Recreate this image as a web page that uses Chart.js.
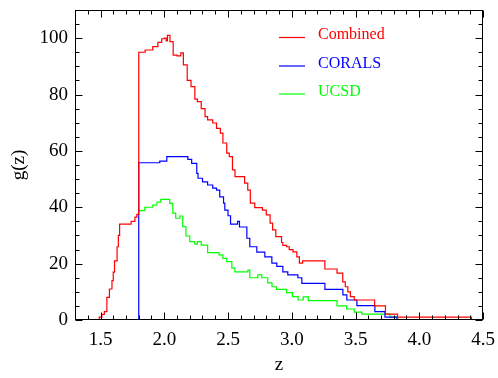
<!DOCTYPE html>
<html>
<head>
<meta charset="utf-8">
<script src="https://cdn.jsdelivr.net/npm/chart.js@4"></script>
<style>
  html, body { margin: 0; padding: 0; background: #fff; }
  #wrap { width: 498px; height: 378px; }
</style>
</head>
<body>
<div id="wrap"><canvas id="gzChart"></canvas></div>
<script>
// step edges (z) and heights g(z)
const redZ = [1.30,1.49,1.51,1.53,1.55,1.57,1.59,1.60,1.61,1.63,1.64,1.65,1.74,1.77,1.785,1.80,1.85,1.91,1.95,1.98,2.00,2.015,2.025,2.045,2.07,2.10,2.13,2.15,2.18,2.21,2.24,2.26,2.29,2.32,2.34,2.38,2.41,2.44,2.46,2.49,2.51,2.535,2.555,2.63,2.655,2.675,2.71,2.77,2.80,2.83,2.85,2.875,2.92,2.93,2.96,2.98,3.01,3.04,3.06,3.085,3.26,3.355,3.40,3.42,3.44,3.46,3.49,3.65,3.735,3.83,4.41,4.50];
const redG = [0,1,2,3,8,11,14,17,21,26,30,34,35,36.5,37.5,95,95.8,97,98.5,99.8,100,99,101,98.8,94,93.7,94.8,90.5,85,82.8,78.4,77.5,75,72.2,71,69.9,68,66.3,62.8,59.2,58,53.3,50.9,48.6,46.1,41.5,39.9,39,37.3,34.4,32,29.6,27.5,26.5,26,25,24.2,22.4,20.2,21,18.1,16.6,13.5,11.8,10,8.3,7.1,5,2.1,1,0,0];

const blueZ = [1.30,1.80,1.965,2.02,2.185,2.215,2.255,2.265,2.30,2.34,2.38,2.41,2.435,2.465,2.475,2.50,2.52,2.575,2.59,2.648,2.671,2.726,2.789,2.844,2.883,2.93,2.969,3.048,3.079,3.26,3.401,3.432,3.511,3.652,3.731,3.825];
const blueG = [0,55.8,56.4,58,57,55.6,52,50.3,49,47.9,46.8,46.1,43.7,41.5,39,37,34,35,33,29,26,24.1,22.4,20.2,19,17.1,16,15,13,10.9,8.9,7.1,5.1,3,1,0];

const greenZ = [1.80,1.847,1.91,1.943,1.973,2.043,2.067,2.09,2.122,2.145,2.17,2.20,2.24,2.26,2.29,2.34,2.43,2.46,2.49,2.53,2.554,2.656,2.671,2.734,2.765,2.812,2.845,2.88,2.96,3.005,3.05,3.09,3.13,3.355,3.43,3.49,3.55,3.77,3.83,4.41];
const greenG = [38.8,40,40.8,41.8,42.8,41.4,37.9,36.1,36.9,33.1,29.8,27.8,26.9,27.8,26.6,23.9,23.1,21.9,20.7,18.4,17.1,17.7,15,16,15,13.2,11.8,10.9,9.7,8.3,7.1,8.2,6.9,5,3.9,2.8,2.1,1,0,0];

const seriesNames = ['Combined', 'CORALS', 'UCSD'];
const seriesColors = ['#ff0000', '#0000ff', '#00ff00'];

const xTicks = [1.5, 2.0, 2.5, 3.0, 3.5, 4.0, 4.5];
const yTicks = [0, 20, 40, 60, 80, 100];

const pts = (zs, gs) => zs.map((z, i) => ({ x: z, y: gs[i] }));

const FONT = '"Liberation Serif", "DejaVu Serif", serif';

// IDL-style frame: inward ticks on all four sides + legend in the corner
const framePlugin = {
  id: 'frame',
  afterDraw(chart) {
    const { ctx, chartArea: a, scales: { x, y } } = chart;
    const L = Math.round(a.left) + 0.5, R = Math.round(a.right) - 0.5;
    const T = Math.round(a.top) + 0.5, B = Math.round(a.bottom) - 0.5;
    ctx.save();
    ctx.strokeStyle = '#000';
    ctx.lineWidth = 1;
    ctx.strokeRect(L, T, R - L, B - T);
    ctx.beginPath();
    for (let i = 13; i <= 45; i++) {
      const v = i / 10;
      const px = Math.round(x.getPixelForValue(v)) + 0.5;
      const len = (i % 5 === 0) ? 7 : 4;
      ctx.moveTo(px, B); ctx.lineTo(px, B - len);
      ctx.moveTo(px, T); ctx.lineTo(px, T + len);
    }
    for (let v = 0; v <= 110; v += 5) {
      const py = Math.round(y.getPixelForValue(v)) + 0.5;
      const len = (v % 20 === 0) ? 7 : 4;
      ctx.moveTo(L, py); ctx.lineTo(L + len, py);
      ctx.moveTo(R, py); ctx.lineTo(R - len, py);
    }
    ctx.stroke();

    // legend
    ctx.font = '16px ' + FONT;
    ctx.textBaseline = 'alphabetic';
    ctx.textAlign = 'left';
    const base = [39, 67.5, 95.5];
    seriesNames.forEach((name, i) => {
      ctx.strokeStyle = seriesColors[i];
      ctx.lineWidth = 1.2;
      ctx.beginPath();
      ctx.moveTo(279, base[i] - 1.5);
      ctx.lineTo(305, base[i] - 1.5);
      ctx.stroke();
      ctx.fillStyle = seriesColors[i];
      ctx.fillText(name, 318, base[i]);
    });
    ctx.restore();
  }
};

const ctx = document.getElementById('gzChart').getContext('2d');
new Chart(ctx, {
  type: 'line',
  data: {
    datasets: [
      { label: seriesNames[0], data: pts(redZ, redG), borderColor: seriesColors[0] },
      { label: seriesNames[1], data: pts(blueZ, blueG), borderColor: seriesColors[1] },
      { label: seriesNames[2], data: pts(greenZ, greenG), borderColor: seriesColors[2] },
    ],
  },
  options: {
    responsive: true,
    maintainAspectRatio: false,
    animation: false,
    devicePixelRatio: 1,
    layout: { padding: { left: 0, right: 15, top: 10, bottom: 0 } },
    elements: {
      line: { borderWidth: 1.2, stepped: true, tension: 0, fill: false },
      point: { radius: 0, hoverRadius: 0 },
    },
    plugins: {
      legend: { display: false },
      tooltip: { enabled: false },
    },
    scales: {
      x: {
        type: 'linear',
        min: 1.3,
        max: 4.5,
        grid: { display: false, drawTicks: false },
        border: { display: false },
        afterBuildTicks: (s) => { s.ticks = xTicks.map(v => ({ value: v })); },
        afterFit: (s) => { s.height = 58; s.paddingLeft = 0; s.paddingRight = 0; },
        ticks: {
          color: '#000',
          padding: 9,
          maxRotation: 0,
          font: { family: FONT, size: 19 },
          callback: (v) => Number(v).toFixed(1),
        },
        title: {
          display: true,
          text: 'z',
          color: '#000',
          font: { family: FONT, size: 19 },
          padding: { top: 0, bottom: 2 },
        },
      },
      y: {
        min: 0,
        max: 110,
        grid: { display: false, drawTicks: false },
        border: { display: false },
        afterBuildTicks: (s) => { s.ticks = yTicks.map(v => ({ value: v })); },
        afterFit: (s) => { s.width = 75; s.paddingTop = 0; s.paddingBottom = 0; },
        ticks: {
          color: '#000',
          padding: 7,
          font: { family: FONT, size: 19 },
        },
        title: {
          display: true,
          text: 'g(z)',
          color: '#000',
          font: { family: FONT, size: 19 },
          padding: { top: 8, bottom: 0 },
        },
      },
    },
  },
  plugins: [framePlugin],
});
</script>
</body>
</html>
